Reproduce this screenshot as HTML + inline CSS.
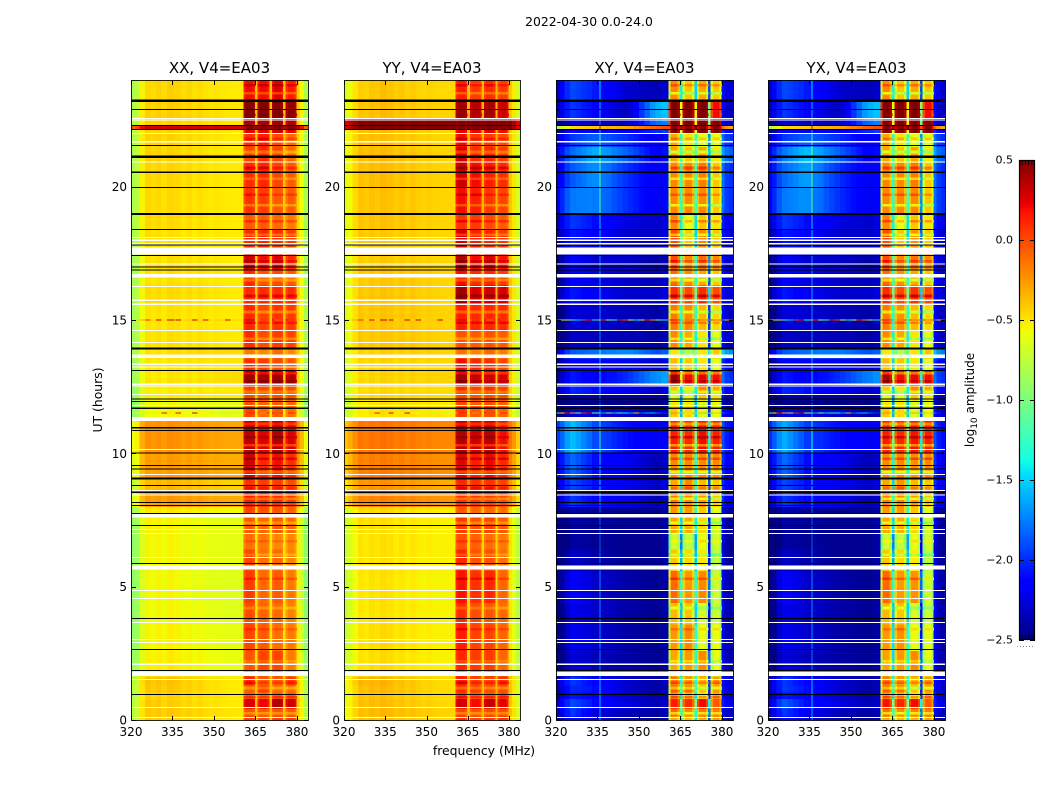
<!DOCTYPE html>
<html lang="en">
<head>
<meta charset="utf-8">
<title>2022-04-30 0.0-24.0</title>
<style>
html,body{margin:0;padding:0;background:#fff;}
svg{display:block;font-family:"DejaVu Sans","Liberation Sans",sans-serif;fill:#000;}
.tick{font-size:12px;}
.title{font-size:15px;}
.label{font-size:12.4px;}
</style>
</head>
<body>
<svg id="figure" width="1050" height="800" viewBox="0 0 1050 800" xmlns="http://www.w3.org/2000/svg">
  <text x="589" y="26" text-anchor="middle" style="font-size:12.4px">2022-04-30 0.0-24.0</text>
  <text class="label" x="484" y="755" text-anchor="middle">frequency (MHz)</text>
  <text class="label" x="0" y="0" text-anchor="middle" transform="translate(102,400) rotate(-90)">UT (hours)</text>
  <text x="0" y="0" text-anchor="middle" style="font-size:12px" transform="translate(974,400) rotate(-90)">log<tspan dy="3" style="font-size:9px">10</tspan><tspan dy="-3"> amplitude</tspan></text>
  <g id="panels"></g>
  <g id="colorbar"></g>
</svg>
<script>
// ---------- Axis data ----------
const xTickMHz = [320, 335, 350, 365, 380];
const yTickUT = [0, 5, 10, 15, 20];
const colorbarTicks = [0.5, 0.0, -0.5, -1.0, -1.5, -2.0, -2.5];

// Frequency cell edges (MHz) and which band column of the value rows each cell reads
const freqEdges = [320,321.5,323,325,327,329,331,333,335.7,336.1,338,340,342,344,346,348,350,352,354,356,358,360.6,361.4,364,364.8,365.8,366.6,369.2,370,370.9,371.7,374.2,375,375.9,376.7,379.1,379.9,381,382.5,384];
const freqBand = [0,0,0,0,0, 1,1,1,1,1,1, 2,2,2,2,2,2, 3,3,3,3, 4,4,4,2, 5,5,5,2, 6,6,6,2, 7,7,7, 2,2,2];
// Frequencies (MHz) at which the four out-of-band columns were read
const bandAnchorMHz = [326, 334, 346, 356];

// Time row edges (UT hours)
const timeEdges = [0,.15,.45,.8,1.05,1.3,1.65,2.6,3.6,4.4,5.6,6.4,7,7.6,8,8.5,9.05,10,11.3,11.7,12,12.2,12.55,13.1,13.57,13.9,14.6,15.6,16.3,16.9,17.5,18.4,19,20,20.9,21.5,22,22.15,22.3,22.55,23.2,24];

// log10 amplitude per time row; columns: left, mid-left, mid, pre-band, block1..block4
const xxValues = [
[-.42,-.42,-.46,-.5,.05,0,.05,.05],
[-.42,-.4,-.44,-.48,-.02,-.05,-.02,-.05],
[-.42,-.42,-.46,-.5,.28,.22,.38,.3],
[-.45,-.44,-.47,-.5,-.05,-.1,-.05,-.05],
[-.42,-.4,-.45,-.5,-.05,.05,-.1,-.1],
[-.4,-.38,-.45,-.5,.1,-.05,-.05,.05],
[-.55,-.52,-.55,-.58,-.03,.02,.02,-.15],
[-.57,-.53,-.57,-.6,.02,-.05,-.12,-.15],
[-.58,-.55,-.58,-.62,0,-.08,-.1,-.18],
[-.58,-.55,-.6,-.62,.05,-.1,-.05,-.15],
[-.57,-.55,-.58,-.6,.02,-.12,-.1,-.18],
[-.57,-.55,-.58,-.6,-.12,-.15,-.2,-.2],
[-.55,-.55,-.58,-.6,-.05,-.1,-.05,-.1],
[-.52,-.5,-.52,-.55,.02,-.02,-.03,-.08],
[-.28,-.25,-.27,-.3,.15,.1,.1,.05],
[-.38,-.35,-.38,-.42,.08,.05,.05,0],
[-.28,-.26,-.28,-.3,.3,.12,.2,.1],
[-.24,-.22,-.25,-.28,.36,.26,.38,.26],
[-.6,-.56,-.58,-.6,.02,-.1,-.05,-.12],
[-.6,-.56,-.58,-.6,0,-.08,-.05,-.1],
[-.55,-.52,-.52,-.52,.02,-.02,0,-.02],
[-.55,-.52,-.5,-.5,.05,0,.05,0],
[-.52,-.5,-.48,-.45,.43,.4,.42,.38],
[-.52,-.5,-.48,-.48,.1,.05,0,-.05],
[-.5,-.48,-.45,-.45,-.15,-.2,-.1,-.2],
[-.5,-.48,-.48,-.5,.1,0,.05,.02],
[-.5,-.48,-.48,-.5,.12,.02,.08,.05],
[-.48,-.46,-.47,-.5,.1,.1,.1,.1],
[-.5,-.48,-.48,-.5,.12,-.02,0,-.05],
[-.5,-.47,-.48,-.5,.3,.2,.25,.1],
[-.48,-.48,-.5,-.5,.1,.12,.1,.05],
[-.47,-.46,-.48,-.5,-.05,-.05,-.1,-.15],
[-.47,-.46,-.48,-.5,.08,.05,-.05,-.05],
[-.46,-.45,-.48,-.5,.1,.12,.02,-.05],
[-.45,-.44,-.47,-.5,.02,.1,.02,-.1],
[-.45,-.44,-.47,-.5,.08,.15,0,-.1],
[-.45,-.44,-.47,-.5,.25,.25,.3,.25],
[.3,.3,.3,.3,.5,.5,.5,.5],
[-.45,-.44,-.46,-.48,.4,.4,.42,.38],
[-.45,-.42,-.45,-.48,.48,.48,.48,.45],
[-.47,-.43,-.47,-.5,.2,.2,.25,.15]
];
const yyValues = [
[-.4,-.38,-.42,-.46,.1,.02,.05,.08],
[-.4,-.36,-.4,-.44,.02,-.03,0,0],
[-.4,-.38,-.42,-.46,.3,.2,.32,.25],
[-.42,-.4,-.44,-.47,.05,-.05,-.02,0],
[-.4,-.37,-.42,-.47,.1,.05,0,0],
[-.37,-.35,-.42,-.47,.15,.02,.02,.08],
[-.52,-.48,-.52,-.54,.12,.05,.05,-.08],
[-.52,-.48,-.52,-.54,.15,.02,.02,-.08],
[-.53,-.5,-.53,-.55,.1,0,-.03,-.1],
[-.53,-.5,-.54,-.55,.18,.08,.12,-.08],
[-.52,-.5,-.52,-.54,.12,-.03,-.02,-.12],
[-.52,-.5,-.52,-.54,-.02,-.08,-.12,-.15],
[-.5,-.5,-.52,-.54,.05,-.02,.02,-.05],
[-.5,-.47,-.5,-.52,-.05,-.1,-.1,-.12],
[-.22,-.2,-.22,-.25,.08,.05,.05,0],
[-.28,-.25,-.28,-.32,.12,.08,.08,.03],
[-.2,-.18,-.2,-.23,.25,.15,.22,.12],
[-.17,-.15,-.17,-.2,.38,.3,.36,.2],
[-.55,-.5,-.5,-.52,.05,-.05,0,-.08],
[-.55,-.5,-.5,-.52,.02,-.05,0,-.05],
[-.5,-.47,-.47,-.48,.02,-.02,0,-.02],
[-.5,-.47,-.47,-.47,.1,.02,.08,.03],
[-.48,-.46,-.45,-.44,.42,.32,.3,.28],
[-.47,-.46,-.45,-.45,.2,.12,.1,.02],
[-.47,-.45,-.43,-.44,-.12,-.18,-.08,-.15],
[-.43,-.42,-.42,-.44,-.03,-.05,-.02,-.05],
[-.43,-.41,-.42,-.44,.15,.1,.12,.1],
[-.43,-.41,-.42,-.45,.42,.28,.3,.28],
[-.44,-.42,-.42,-.45,.2,.1,.12,.05],
[-.45,-.42,-.43,-.45,.38,.2,.28,.18],
[-.43,-.42,-.44,-.45,.28,.15,.12,.06],
[-.42,-.4,-.42,-.45,.08,.05,0,-.05],
[-.42,-.4,-.42,-.45,.2,.14,.06,.02],
[-.41,-.38,-.42,-.45,.3,.2,.15,.1],
[-.4,-.38,-.42,-.45,.28,.1,.12,.05],
[-.4,-.38,-.42,-.45,.2,.05,.05,0],
[-.4,-.38,-.42,-.45,.25,.22,.25,.2],
[.48,.48,.48,.48,.5,.5,.5,.5],
[.48,.48,.48,.48,.5,.5,.5,.5],
[-.42,-.38,-.42,-.44,.42,.35,.4,.3],
[-.45,-.4,-.44,-.46,.15,.05,.1,.05]
];
const xyValues = [
[-2.2,-2.3,-2.4,-2.45,-.4,-.45,-.4,-.35],
[-2,-2.25,-2.35,-2.4,-.2,-.3,-.25,-.25],
[-1.95,-2.1,-2.25,-2.35,.05,0,.1,-.15],
[-2.1,-2.15,-2.3,-2.4,-.35,-.45,-.6,-.4],
[-2.05,-2.1,-2.3,-2.4,-.15,-.2,-.5,-.35],
[-2,-2.15,-2.3,-2.4,-.25,-.35,-.45,-.35],
[-2.3,-2.35,-2.4,-2.45,-.4,-.35,-.3,-.7],
[-2.25,-2.3,-2.4,-2.45,-.35,-.3,-.7,-.7],
[-2.25,-2.3,-2.4,-2.45,-.45,-.5,-.75,-.8],
[-2.2,-2.3,-2.4,-2.45,-.2,-.35,-.3,-.8],
[-2.35,-2.4,-2.45,-2.45,-.5,-.55,-.6,-.85],
[-2.45,-2.45,-2.45,-2.45,-.8,-.85,-.7,-.8],
[-2.45,-2.45,-2.45,-2.45,-.4,-.4,-.55,-.75],
[-2.4,-2.45,-2.45,-2.45,-.35,-.35,-.5,-.7],
[-2,-2.15,-2.2,-2.35,-.25,-.3,-.35,-.5],
[-1.95,-2.1,-2.2,-2.3,-.4,-.3,-.45,-.5],
[-1.85,-2.1,-2.2,-2.35,-.3,-.3,-.3,-.3],
[-1.6,-1.9,-2.1,-2.2,.05,0,.1,.05],
[-2.3,-2.3,-2.3,-2.4,-.5,-.55,-.75,-.7],
[-2.5,-2.5,-2.5,-2.5,-.6,-.6,-.75,-.7],
[-2.4,-2.4,-2.4,-2.4,-.7,-.7,-.5,-.6],
[-2.05,-2.1,-2.2,-2.3,-.5,-.6,-.3,-.4],
[-2.1,-2.2,-2,-1.7,.35,.1,.15,.1],
[-2.2,-2.2,-2.2,-2.3,-.45,-.5,-.6,-.7],
[-1.9,-1.8,-1.7,-1.9,-.6,-.9,-.6,-.5],
[-2.35,-2.35,-2.35,-2.4,-.3,-.4,-.6,-.7],
[-2.3,-2.3,-2.35,-2.4,-.25,-.3,-.45,-.55],
[-2.1,-2.2,-2.3,-2.3,0,-.1,0,-.1],
[-2.2,-2.25,-2.3,-2.35,-.2,-.3,-.4,-.5],
[-2.2,-2.3,-2.3,-2.4,-.1,-.3,-.2,-.3],
[-2.1,-2.15,-2.3,-2.3,-.1,-.5,-.3,-.5],
[-2,-2.1,-2.25,-2.3,-.3,-.7,-.5,-.6],
[-1.8,-1.75,-2,-2.2,-.3,-.3,-.3,-.5],
[-1.9,-1.7,-2,-2.2,-.3,-.3,-.25,-.5],
[-1.85,-1.6,-1.85,-2.15,-.4,-.5,-.4,-.6],
[-2,-1.85,-2,-2.2,-.4,-.6,-.7,-.7],
[-2.2,-2.2,-2.2,-2,.4,.4,.45,.45],
[-.5,-.4,-.3,-.05,.4,.4,.4,.4],
[-2.3,-2.35,-2.35,-1.8,.45,.45,.45,.45],
[-2,-2.15,-2.35,-1.6,.48,.45,.48,.1],
[-1.95,-2.05,-2.3,-2.35,-.3,-.5,-.4,-.5]
];
const yxValues = [
[-2.2,-2.3,-2.4,-2.45,-.4,-.45,-.42,-.38],
[-2,-2.2,-2.35,-2.4,-.22,-.32,-.28,-.25],
[-1.9,-2.1,-2.25,-2.35,.08,.02,.1,-.15],
[-2.1,-2.15,-2.3,-2.4,-.35,-.45,-.6,-.42],
[-2,-2.1,-2.3,-2.4,-.15,-.22,-.5,-.35],
[-2,-2.15,-2.3,-2.4,-.25,-.35,-.45,-.35],
[-2.3,-2.35,-2.4,-2.45,-.38,-.35,-.3,-.7],
[-2.25,-2.3,-2.4,-2.45,-.35,-.32,-.7,-.72],
[-2.25,-2.3,-2.4,-2.45,-.45,-.5,-.75,-.8],
[-2.2,-2.3,-2.4,-2.45,-.2,-.35,-.32,-.8],
[-2.35,-2.4,-2.45,-2.45,-.5,-.55,-.62,-.85],
[-2.45,-2.45,-2.45,-2.45,-.8,-.85,-.72,-.8],
[-2.45,-2.45,-2.45,-2.45,-.4,-.42,-.55,-.75],
[-2.4,-2.45,-2.45,-2.45,-.35,-.35,-.5,-.7],
[-2,-2.15,-2.2,-2.35,-.25,-.3,-.35,-.5],
[-1.95,-2.1,-2.2,-2.3,-.4,-.32,-.45,-.5],
[-1.85,-2.1,-2.2,-2.35,-.3,-.3,-.32,-.3],
[-1.65,-1.95,-2.1,-2.2,.05,.02,.08,.05],
[-2.3,-2.3,-2.3,-2.4,-.5,-.55,-.75,-.7],
[-2.5,-2.5,-2.5,-2.5,-.6,-.6,-.75,-.7],
[-2.4,-2.4,-2.4,-2.4,-.7,-.7,-.5,-.6],
[-2.05,-2.1,-2.2,-2.3,-.5,-.6,-.3,-.4],
[-2.1,-2.2,-2,-1.75,.3,.1,.12,.1],
[-2.2,-2.2,-2.2,-2.3,-.45,-.5,-.6,-.7],
[-1.9,-1.8,-1.75,-1.9,-.6,-.9,-.6,-.5],
[-2.35,-2.35,-2.35,-2.4,-.3,-.4,-.6,-.7],
[-2.3,-2.3,-2.35,-2.4,-.25,-.32,-.45,-.55],
[-2.1,-2.2,-2.3,-2.3,0,-.1,-.02,-.1],
[-2.2,-2.25,-2.3,-2.35,-.2,-.32,-.4,-.5],
[-2.2,-2.3,-2.3,-2.4,-.1,-.3,-.22,-.3],
[-2.1,-2.15,-2.3,-2.3,-.1,-.5,-.32,-.5],
[-2,-2.1,-2.25,-2.3,-.3,-.7,-.5,-.6],
[-1.8,-1.7,-2,-2.2,-.3,-.3,-.3,-.5],
[-1.85,-1.65,-2,-2.2,-.28,-.3,-.25,-.5],
[-1.8,-1.55,-1.85,-2.15,-.4,-.5,-.4,-.6],
[-2,-1.85,-2,-2.2,-.4,-.6,-.7,-.7],
[-2.2,-2.2,-2.2,-2,.4,.4,.45,.45],
[-.5,-.4,-.3,-.05,.4,.4,.4,.4],
[-2.3,-2.35,-2.35,-1.8,.45,.45,.45,.45],
[-2,-2.15,-2.35,-1.6,.48,.45,.48,.1],
[-1.95,-2.05,-2.3,-2.35,-.3,-.5,-.4,-.5]
];

// Per-frequency fine structure (log10 offset), one value per frequency cell
const xxRipple = [-.35,-.3,-.08,.02,-.01, .01,-.03,.01,-.02,0,-.03, 0,-.03,0,-.02,-.03,-.01, -.02,-.02,-.02,-.02, -.08,0,-.05,.08, -.05,0,-.05,.08, -.08,0,-.05,.08, -.08,0,-.08, .05,-.1,-.35];
const yyRipple = [-.22,-.15,-.05,.03,0, .03,0,.03,0,.02,-.01, .02,-.01,.02,0,-.01,.01, 0,0,0,0, -.06,0,-.05,.08, -.05,0,-.05,.08, -.06,0,-.05,.08, -.06,0,-.08, .03,-.08,-.25];
const xyRipple = [-.35,-.22,-.06,.03,.03, .02,.02,0,.6,0,.02, 0,0,0,0,0,0, 0,0,0,.05, -.4,.1,-.08,.7, -.08,.1,-.08,.8, -.08,.1,-.08,.3, -.1,.1,-.1, .2,.05,0];
const yxRipple = [-.35,-.22,-.06,.03,.03, .02,.02,0,.6,0,.02, 0,0,0,0,0,0, 0,0,0,.05, -.4,.1,-.08,.7, -.08,.1,-.08,.8, -.08,.1,-.08,.3, -.1,.1,-.1, .2,.05,0];

// Thin horizontal stripes inside the four signal blocks
const stripeUT = [.25,.85,1.2,1.4,2.2,3.4,4.2,5.3,6.2,6.7,7.4,8.3,8.7,9.3,9.8,10.3,10.6,11.1,12.3,12.7,13,14.3,14.9,15.3,15.9,16.5,17.2,18.2,18.7,19.3,19.7,20.3,20.7,21.3,21.8,22.7,23.5,23.8];
const stripeCo = [-.2,.15,-.18,.12,-.12,.1,-.15,.12,-.15,.1,-.18,-.2,.12,-.22,.15,-.25,.1,-.2,-.18,.08,-.2,-.2,.12,-.22,.15,-.2,.1,-.2,.15,-.22,.12,-.18,.15,-.2,.12,.02,-.2,.12];
const stripeCross = [-.35,.25,-.3,.2,-.2,.15,-.25,.2,-.3,.15,-.3,-.35,.2,-.35,.25,-.4,.2,-.35,-.3,.1,-.35,-.3,.2,-.35,.25,-.35,.2,-.35,.25,-.35,.2,-.3,.25,-.35,.2,0,-.35,.2];

// Speckled rows, one value per frequency cell
const speckleUT = [15, 11.52];
const speckleCo = [
[-.5,-.45,-.3,.1,-.45,.25,-.45,.3,-.45,.3,-.45,-.4,.3,-.45,.25,-.45,-.45,-.4,.25,-.45,-.45,.2,.3,.3,-.4,-.1,.1,0,-.4,.3,-.1,.1,-.4,.3,.1,.1,-.4,-.5,-.6],
[-.7,-.6,-.55,-.5,-.55,-.5,.2,-.5,-.55,.25,-.6,-.6,.3,-.55,-.6,-.5,-.7,-.8,-.5,-.8,-.7,-.2,.1,.1,-.5,0,-.2,.1,-.5,.2,0,.1,-.6,-.2,.1,0,-.6,-.8,-.9]
];
const speckleCross = [
[-1.6,-.9,-.5,-1.2,-1.5,0,.2,-1.3,-.5,.1,-.8,-1.3,.2,0,-.6,-1.4,-.7,.15,-.2,-.9,-1.4,0,.2,.1,-1.5,-.3,-.1,.1,-1.2,.2,-.1,0,-1.6,.2,-.1,.1,-1.6,-.4,.1],
[-1.3,-.5,.2,-.3,-.9,.1,.3,-1,-1.4,-1.6,-.9,-1.5,-1.2,-1.4,-1.6,-.4,-1.8,-1.6,-1.5,-1.8,-2,-.4,-.2,-.3,-1.3,-.3,-.5,-.2,-1.2,-.4,-.3,-.3,-1.4,-.3,-.4,-.3,-1.8,-2,-2.2]
];

// Flagged time rows (UT hours): no-data (white) and zero (black)
const whiteThinUT = [.1,.47,1.52,2.09,2.91,3.02,3.66,4.56,4.86,6.1,7,7.15,8.44,8.6,9.21,10.15,11.79,12.21,12.52,12.59,13.23,13.34,14.16,14.6,15.59,15.74,16.25,17.1,17.86,17.99,18.1,20.92,21.99,22.5,22.55];
const whiteWideStart = [1.65,5.64,7.6,11.21,13.57,16.6,17.46,21.66];
const whiteWideEnd = [1.81,5.79,7.75,11.36,13.7,16.72,17.72,21.72];
const blackThinUT = [.96,1.86,2.65,3.81,5.87,7.3,7.75,8.05,8.15,8.54,8.8,9.42,9.54,10.02,10.86,10.96,11.69,11.94,12.04,13.1,16.87,16.99,17.42,17.82,18.4,19.97,20.54,21.55,22.15,22.3,22.9];
const blackThickUT = [9.05,13.93,18.98,21.12,23.22];

const panelConfigs = [
  {id:'xx', title:'XX, V4=EA03', left:131, width:177, values:xxValues, ripple:xxRipple, speckle:speckleCo, stripes:stripeCo},
  {id:'yy', title:'YY, V4=EA03', left:344, width:176, values:yyValues, ripple:yyRipple, speckle:speckleCo, stripes:stripeCo},
  {id:'xy', title:'XY, V4=EA03', left:556, width:177, values:xyValues, ripple:xyRipple, speckle:speckleCross, stripes:stripeCross},
  {id:'yx', title:'YX, V4=EA03', left:768, width:177, values:yxValues, ripple:yxRipple, speckle:speckleCross, stripes:stripeCross}
];

// ---------- Scales ----------
const plotTop = 80, plotBottom = 720;
const cbarTop = 160, cbarBottom = 640, cbarLeft = 1019, cbarRight = 1035;
function yScale(ut){ return plotBottom - (ut / 24) * (plotBottom - plotTop); }
function xScale(mhz, panel){ return panel.left + (mhz - 320) / 64 * panel.width; }
function cbarY(v){ return cbarTop + (0.5 - v) / 3 * (cbarBottom - cbarTop); }
function interp(points, t){
  for (let i = 1; i < points.length; i++) {
    if (t <= points[i][0]) {
      const a = points[i-1], b = points[i];
      return a[1] + (b[1]-a[1]) * (t-a[0]) / (b[0]-a[0]);
    }
  }
  return points[points.length-1][1];
}
const jetR = [[0,0],[.35,0],[.66,1],[.89,1],[1,.5]];
const jetG = [[0,0],[.125,0],[.375,1],[.64,1],[.91,0],[1,0]];
const jetB = [[0,.5],[.11,1],[.34,1],[.65,0],[1,0]];
function colorOf(v){
  const t = Math.min(1, Math.max(0, (v + 2.5) / 3));
  return 'rgb(' + Math.round(interp(jetR,t)*255) + ',' + Math.round(interp(jetG,t)*255) + ',' + Math.round(interp(jetB,t)*255) + ')';
}

// Value of one frequency cell within a time row
const gapCells = [24, 28, 32];
const gapDrop = [1.1, 1.0, 1.5];
function cellValue(row, c, panel){
  if (c < 21) {
    const mid = (freqEdges[c] + freqEdges[c+1]) / 2;
    const pts = bandAnchorMHz.map(function(f, i){ return [f, row[i]]; });
    const base = mid <= pts[0][0] ? pts[0][1] : interp(pts, mid);
    return base + panel.ripple[c];
  }
  const plain = row[freqBand[c]] + panel.ripple[c];
  const g = gapCells.indexOf(c);
  if (g >= 0) return Math.max(plain, row[freqBand[c-1]] - gapDrop[g]);
  return plain;
}

// ---------- Drawing ----------
const NS = 'http://www.w3.org/2000/svg';
function make(tag, attrs, parent){
  const el = document.createElementNS(NS, tag);
  for (const k in attrs) el.setAttribute(k, attrs[k]);
  parent.appendChild(el);
  return el;
}
function rowAt(panel, ut){
  for (let r = 0; r < panel.values.length; r++) {
    if (ut < timeEdges[r+1]) return panel.values[r];
  }
  return panel.values[panel.values.length-1];
}
function drawBand(panel, parent, start, end, color, name){
  const el = make('rect', {x:panel.left, y:yScale(end), width:panel.width, height:yScale(start)-yScale(end), fill:color, 'shape-rendering':'crispEdges'}, parent);
  
  
}

const panelsRoot = document.getElementById('panels');
panelConfigs.forEach(function(panel){
  const g = make('g', {}, panelsRoot);
  
  

  // Heatmap cells
  panel.values.forEach(function(row, r){
    for (let c = 0; c < freqBand.length; c++) {
      const x0 = xScale(freqEdges[c], panel), x1 = xScale(freqEdges[c+1], panel);
      const y0 = yScale(timeEdges[r+1]), y1 = yScale(timeEdges[r]);
      const cell = make('rect', {x:x0, y:y0, width:x1-x0+.4, height:y1-y0+.4, fill:colorOf(cellValue(row, c, panel)), 'shape-rendering':'crispEdges'}, g);
      
      
    }
  });

  // Stripes within the signal blocks
  stripeUT.forEach(function(ut, s){
    const row = rowAt(panel, ut);
    for (let c = 21; c < 36; c++) {
      if (gapCells.indexOf(c) >= 0) continue;
      const x0 = xScale(freqEdges[c], panel), x1 = xScale(freqEdges[c+1], panel);
      const cell = make('rect', {x:x0, y:yScale(ut+.05), width:x1-x0+.4, height:yScale(ut-.05)-yScale(ut+.05), fill:colorOf(cellValue(row, c, panel) + panel.stripes[s]), 'shape-rendering':'crispEdges'}, g);
      
      
    }
  });

  // Speckled rows
  speckleUT.forEach(function(ut, s){
    for (let c = 0; c < freqBand.length; c++) {
      const x0 = xScale(freqEdges[c], panel), x1 = xScale(freqEdges[c+1], panel);
      const cell = make('rect', {x:x0, y:yScale(ut+.018), width:x1-x0+.4, height:yScale(ut-.018)-yScale(ut+.018), fill:colorOf(panel.speckle[s][c]), 'shape-rendering':'crispEdges'}, g);
      
      
    }
  });

  // Flagged rows
  whiteWideStart.forEach(function(s, i){ drawBand(panel, g, s, whiteWideEnd[i], '#fff', 'flagged-gap'); });
  whiteThinUT.forEach(function(ut){ drawBand(panel, g, ut-.02, ut+.02, '#fff', 'flagged-line'); });
  blackThinUT.forEach(function(ut){ drawBand(panel, g, ut-.02, ut+.02, '#000', 'zero-line'); });
  blackThickUT.forEach(function(ut){ drawBand(panel, g, ut-.04, ut+.04, '#000', 'zero-band'); });

  // Frame
  const frame = make('rect', {x:panel.left+.5, y:plotTop+.5, width:panel.width, height:plotBottom-plotTop, fill:'none', stroke:'#000', 'stroke-width':1, 'stroke-opacity':.85}, g);
  
  

  // X ticks
  xTickMHz.forEach(function(mhz){
    const x = Math.round(xScale(mhz, panel)) + .5;
    const bottomTick = make('line', {x1:x, x2:x, y1:plotBottom, y2:plotBottom-4, stroke:'#000'}, g);
    
    
    const topTick = make('line', {x1:x, x2:x, y1:plotTop+1, y2:plotTop+5, stroke:'#000'}, g);
    
    
    const label = make('text', {x:xScale(mhz, panel), y:736, 'text-anchor':'middle', class:'tick'}, g);
    
    
    label.textContent = mhz;
  });

  // Y ticks
  yTickUT.forEach(function(ut){
    const y = Math.round(yScale(ut)) + .5;
    const leftTick = make('line', {x1:panel.left+1, x2:panel.left+5, y1:y, y2:y, stroke:'#000'}, g);
    
    
    const rightTick = make('line', {x1:panel.left+panel.width-4, x2:panel.left+panel.width, y1:y, y2:y, stroke:'#000'}, g);
    
    
    const label = make('text', {x:panel.left-4, y:yScale(ut)+4.5, 'text-anchor':'end', class:'tick'}, g);
    
    
    label.textContent = ut;
  });

  // Title
  const title = make('text', {x:panel.left+panel.width/2, y:73, 'text-anchor':'middle', class:'title'}, g);
  
  
  title.textContent = panel.title;
});

// Colorbar
const cbarRoot = document.getElementById('colorbar');
for (let py = cbarTop; py < cbarBottom; py += 2) {
  const v = 0.5 - (py + 1 - cbarTop) / (cbarBottom - cbarTop) * 3;
  const strip = make('rect', {x:cbarLeft, y:py, width:cbarRight-cbarLeft, height:2.2, fill:colorOf(v), 'shape-rendering':'crispEdges'}, cbarRoot);
  
  
}
const cbarFrame = make('rect', {x:cbarLeft+.5, y:cbarTop+.5, width:cbarRight-cbarLeft-1, height:cbarBottom-cbarTop-1, fill:'none', stroke:'#000', 'stroke-width':1.2}, cbarRoot);


colorbarTicks.forEach(function(v){
  const y = Math.round(cbarY(v)) + .5;
  const t1 = make('line', {x1:cbarLeft, x2:cbarLeft+5, y1:y, y2:y, stroke:'#000'}, cbarRoot);
  
  
  const t2 = make('line', {x1:cbarRight-5, x2:cbarRight, y1:y, y2:y, stroke:'#000'}, cbarRoot);
  
  
  const label = make('text', {x:1013, y:cbarY(v)+3.5, 'text-anchor':'end', style:'font-size:11px'}, cbarRoot);
  
  
  label.textContent = v.toFixed(1).replace('-', '\u2212');
});
for (let i = 1; i < 5; i++) {
  const x = cbarLeft + i * 3.2;
  const topMark = make('line', {x1:x, x2:x, y1:cbarTop, y2:cbarTop+5, stroke:'#000', 'stroke-width':.8}, cbarRoot);
  
  
  const bottomMark = make('line', {x1:x, x2:x, y1:cbarBottom-5, y2:cbarBottom, stroke:'#000', 'stroke-width':.8}, cbarRoot);
  
  
}
const dots = make('line', {x1:1017, x2:1035, y1:646.5, y2:646.5, stroke:'#888', 'stroke-width':1, 'stroke-dasharray':'1 2'}, cbarRoot);


</script>
</body>
</html>
